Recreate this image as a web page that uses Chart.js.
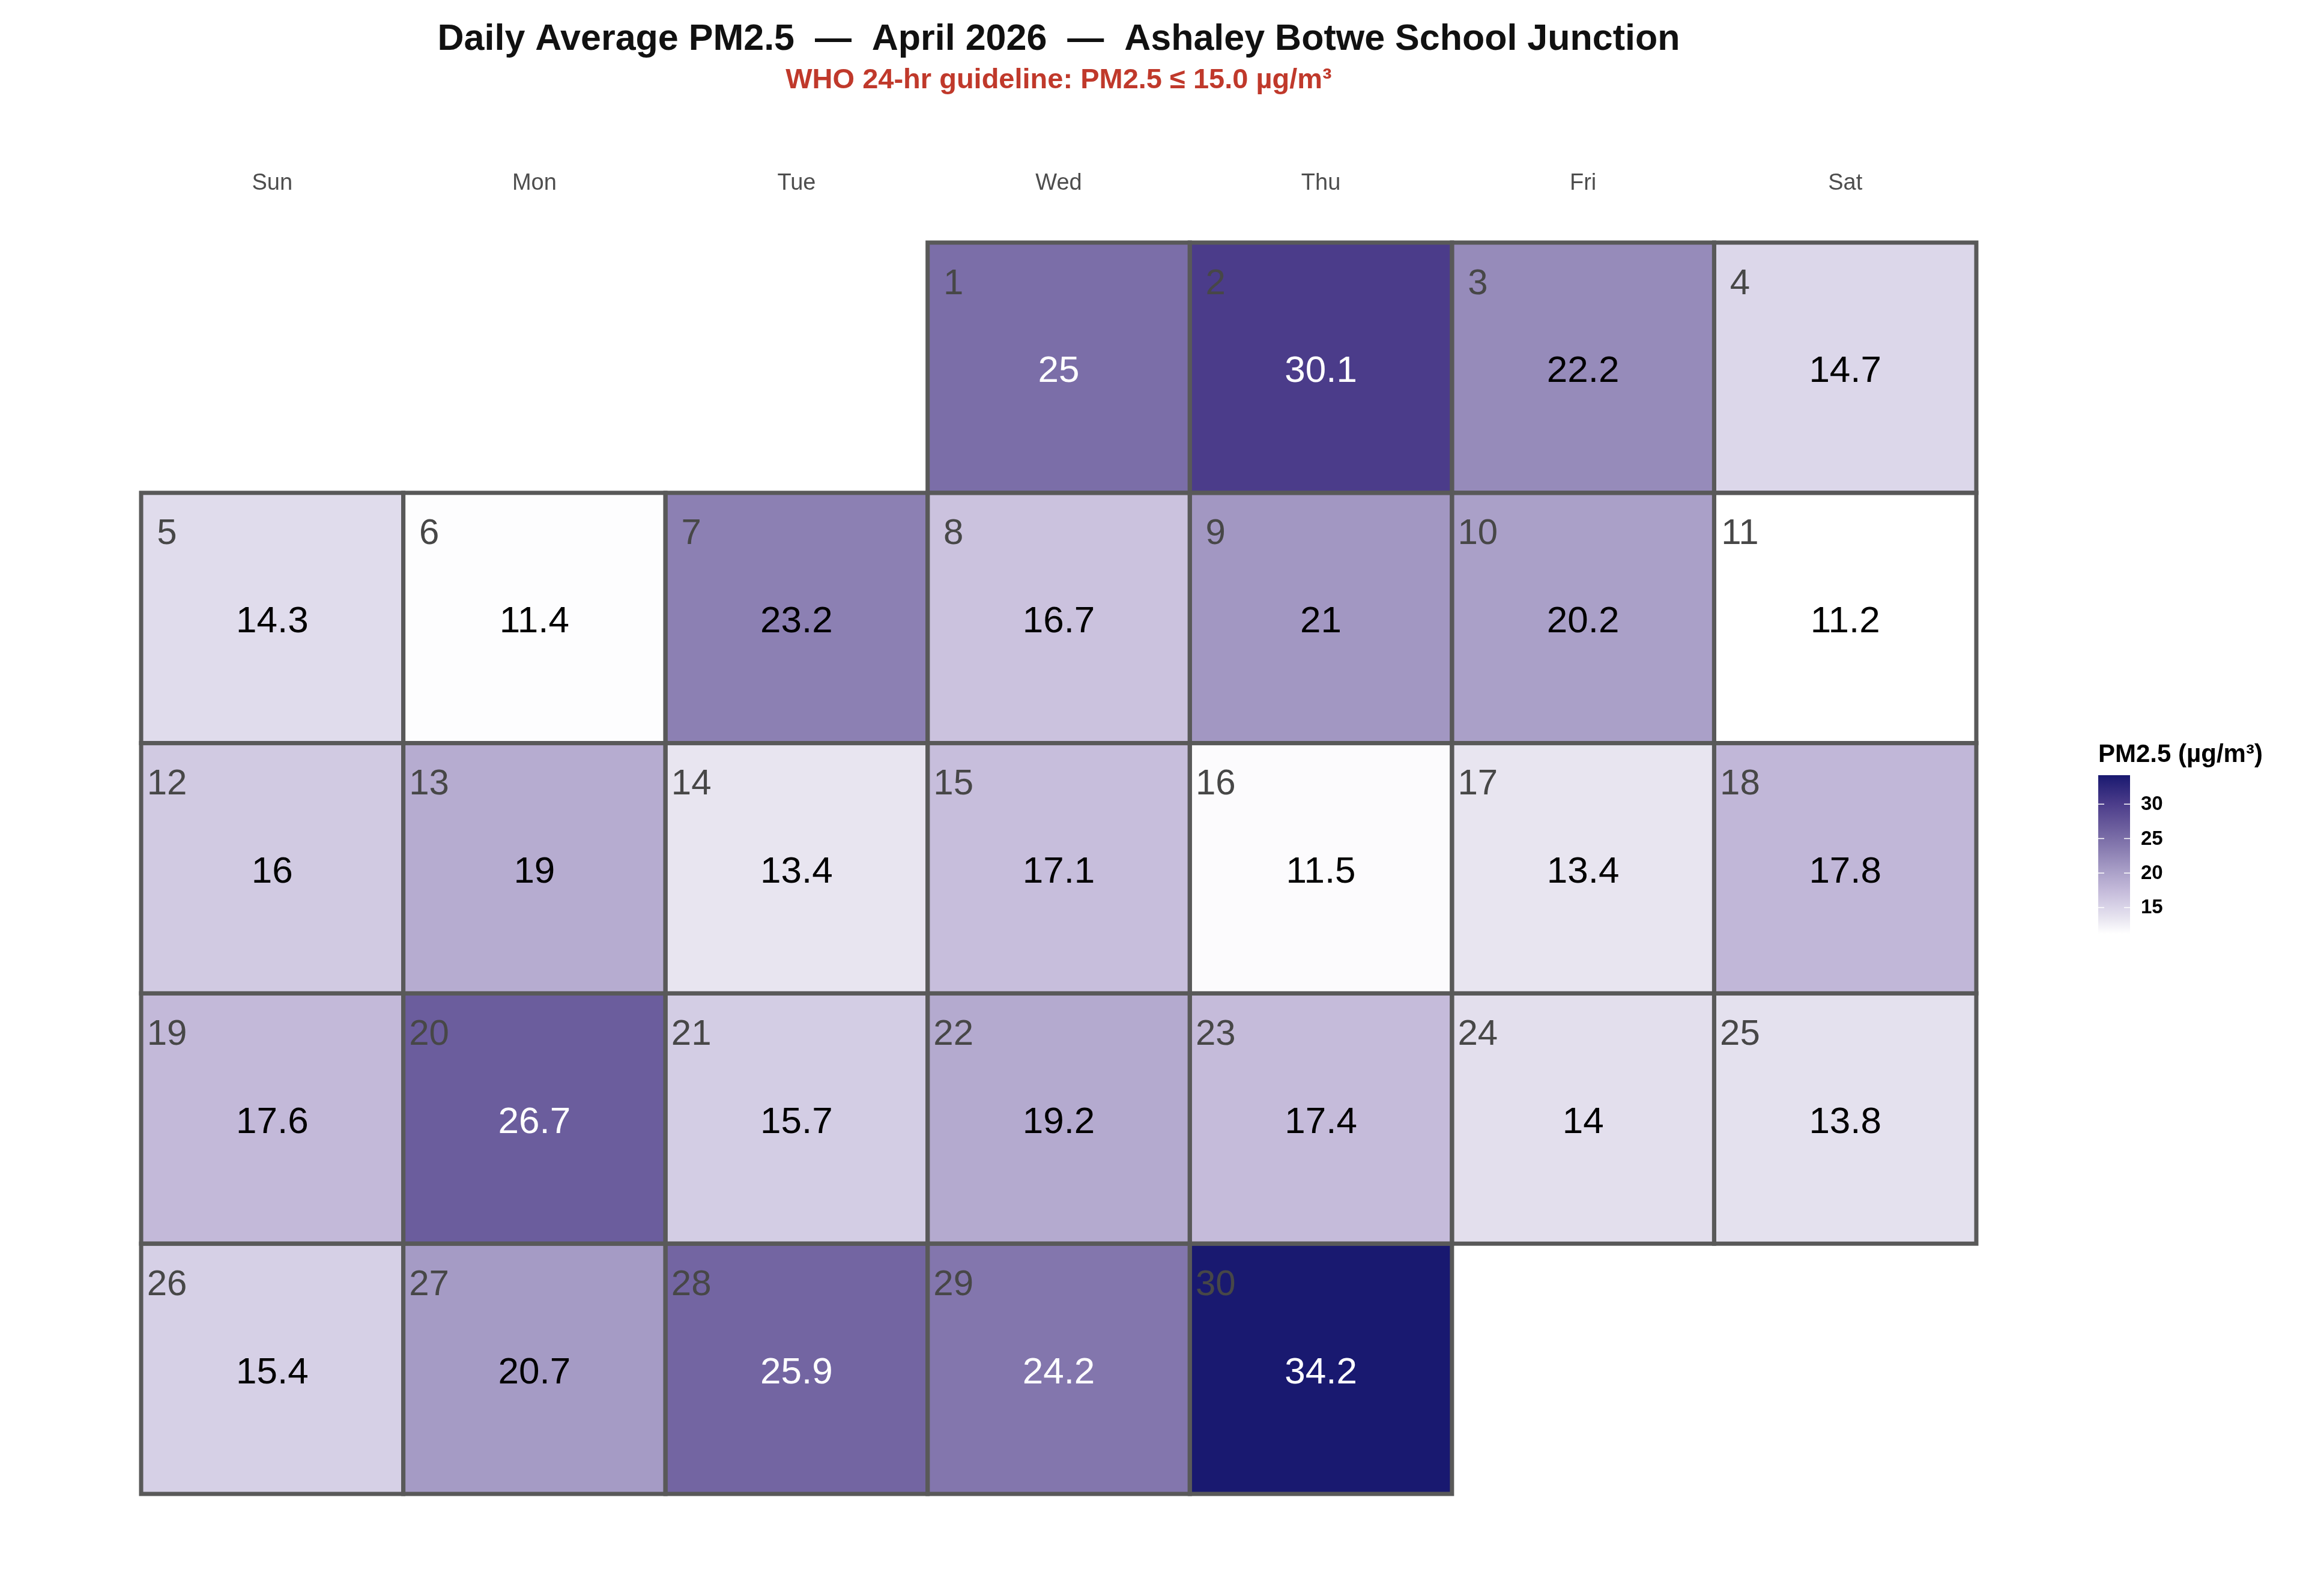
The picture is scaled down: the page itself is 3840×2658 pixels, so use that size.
<!DOCTYPE html>
<html>
<head>
<meta charset="utf-8">
<script src="https://cdn.jsdelivr.net/npm/chart.js@4.4.1/dist/chart.umd.min.js"></script>
<style>
  html, body { margin: 0; padding: 0; background: #fff; }
  #wrap { width: 3840px; height: 2658px; }
</style>
</head>
<body>
<div id="wrap"><canvas id="cal" width="3840" height="2658"></canvas></div>
<script>
const weekdays = ['Sun', 'Mon', 'Tue', 'Wed', 'Thu', 'Fri', 'Sat'];
const dayNumbers = [1, 2, 3, 4, 5, 6, 7, 8, 9, 10, 11, 12, 13, 14, 15,
  16, 17, 18, 19, 20, 21, 22, 23, 24, 25, 26, 27, 28, 29, 30];
const pm25 = [25, 30.1, 22.2, 14.7, 14.3, 11.4, 23.2, 16.7, 21, 20.2, 11.2, 16, 19, 13.4, 17.1,
  11.5, 13.4, 17.8, 17.6, 26.7, 15.7, 19.2, 17.4, 14, 13.8, 15.4, 20.7, 25.9, 24.2, 34.2];
const firstWeekday = 3; // 1 April 2026 falls on a Wednesday
const legendTicks = [15, 20, 25, 30];

const FONT = "'Liberation Sans', Arial, Helvetica, sans-serif";

// fill scale, white -> midnight blue
const colorStops = [
  [11.2, '#ffffff'], [13.4, '#e8e5f0'], [15.4, '#d6d0e6'], [17.6, '#c3b9d9'],
  [20.2, '#aaa0c8'], [23.2, '#8c80b3'], [26.7, '#6b5d9d'], [30.1, '#4b3c8a'], [34.2, '#191970']
];

function hexToRgb(h) {
  return [parseInt(h.slice(1, 3), 16), parseInt(h.slice(3, 5), 16), parseInt(h.slice(5, 7), 16)];
}

function fillFor(v) {
  if (v <= colorStops[0][0]) return colorStops[0][1];
  for (let i = 1; i < colorStops.length; i++) {
    if (v <= colorStops[i][0]) {
      const [v0, c0] = colorStops[i - 1];
      const [v1, c1] = colorStops[i];
      const t = (v - v0) / (v1 - v0);
      const a = hexToRgb(c0), b = hexToRgb(c1);
      const m = a.map((x, k) => Math.round(x + (b[k] - x) * t));
      return `rgb(${m[0]},${m[1]},${m[2]})`;
    }
  }
  return colorStops[colorStops.length - 1][1];
}

// one dataset per calendar week
const nWeeks = Math.ceil((firstWeekday + dayNumbers.length) / 7);
const cells = [];
for (let w = 0; w < nWeeks; w++) cells.push(weekdays.map(() => null));
dayNumbers.forEach((d, i) => {
  const slot = firstWeekday + d - 1;
  cells[Math.floor(slot / 7)][slot % 7] = { day: d, value: pm25[i] };
});

const datasets = cells.map((row, w) => ({
  label: 'Week ' + (w + 1),
  data: row.map(c => (c ? [w, w + 1] : null)),
  cells: row,
  backgroundColor: ctx => {
    const c = row[ctx.dataIndex];
    return c ? fillFor(c.value) : 'transparent';
  },
  borderWidth: 0,
  grouped: false,
  barPercentage: 1,
  categoryPercentage: 1,
}));

const vMin = Math.min(...pm25);
const vMax = Math.max(...pm25);

const tilePlugin = {
  id: 'tiles',
  afterDatasetsDraw(chart) {
    const ctx = chart.ctx;
    ctx.save();
    ctx.strokeStyle = '#595959';
    ctx.lineWidth = 7;
    chart.data.datasets.forEach((ds, di) => {
      chart.getDatasetMeta(di).data.forEach((el, i) => {
        const c = ds.cells[i];
        if (!c) return;
        const top = Math.min(el.y, el.base);
        const h = Math.abs(el.base - el.y);
        ctx.strokeRect(el.x - el.width / 2, top, el.width, h);
      });
    });
    chart.data.datasets.forEach((ds, di) => {
      chart.getDatasetMeta(di).data.forEach((el, i) => {
        const c = ds.cells[i];
        if (!c) return;
        const top = Math.min(el.y, el.base);
        const h = Math.abs(el.base - el.y);
        const left = el.x - el.width / 2;
        ctx.textAlign = 'center';
        ctx.textBaseline = 'middle';
        ctx.font = `60px ${FONT}`;
        ctx.fillStyle = '#474747';
        ctx.fillText(String(c.day), left + 43, top + 69);
        ctx.font = `62px ${FONT}`;
        ctx.fillStyle = c.value >= 24 ? '#ffffff' : '#000000';
        ctx.fillText(String(c.value), el.x, top + h / 2 + 7);
      });
    });
    ctx.restore();
  },
  afterDraw(chart) {
    // colour bar legend
    const ctx = chart.ctx;
    const x0 = 3494, w = 53, yTop = 1291, yBot = 1555;
    const yFor = v => yBot - (v - vMin) / (vMax - vMin) * (yBot - yTop);
    ctx.save();
    ctx.fillStyle = '#000';
    ctx.font = `bold 42px ${FONT}`;
    ctx.textAlign = 'left';
    ctx.textBaseline = 'middle';
    ctx.fillText('PM2.5 (µg/m³)', 3494, 1257);
    const g = ctx.createLinearGradient(0, yBot, 0, yTop);
    colorStops.forEach(([v, c]) => {
      g.addColorStop(Math.min(1, Math.max(0, (v - vMin) / (vMax - vMin))), c);
    });
    ctx.fillStyle = g;
    ctx.fillRect(x0, yTop, w, yBot - yTop);
    ctx.strokeStyle = '#ffffff';
    ctx.lineWidth = 1.5;
    ctx.fillStyle = '#000';
    ctx.font = `bold 33px ${FONT}`;
    legendTicks.forEach(t => {
      const y = yFor(t);
      ctx.beginPath();
      ctx.moveTo(x0, y); ctx.lineTo(x0 + 10, y);
      ctx.moveTo(x0 + w - 10, y); ctx.lineTo(x0 + w, y);
      ctx.stroke();
      ctx.fillText(String(t), 3565, y + 1);
    });
    ctx.restore();
  }
};

new Chart(document.getElementById('cal'), {
  type: 'bar',
  data: { labels: weekdays, datasets },
  options: {
    responsive: false,
    animation: false,
    devicePixelRatio: 1,
    layout: { padding: { left: 235, right: 549, top: 0, bottom: 170 } },
    plugins: {
      legend: { display: false },
      tooltip: { enabled: false },
      title: {
        display: true,
        text: 'Daily Average PM2.5  —  April 2026  —  Ashaley Botwe School Junction',
        color: '#111111',
        font: { family: FONT, size: 61, weight: 'bold' },
        padding: { top: 30, bottom: 0 },
      },
      subtitle: {
        display: true,
        text: 'WHO 24-hr guideline: PM2.5 ≤ 15.0 µg/m³',
        color: '#c0392b',
        font: { family: FONT, size: 47, weight: 'bold' },
        padding: { top: 3, bottom: 43.8 },
      },
    },
    scales: {
      x: {
        type: 'category',
        position: 'top',
        offset: true,
        grid: { display: false, drawTicks: false },
        border: { display: false },
        ticks: { color: '#4d4d4d', font: { family: FONT, size: 38 }, padding: 76 },
      },
      y: { type: 'linear', min: 0, max: nWeeks, reverse: true, display: false },
    },
  },
  plugins: [tilePlugin],
});
</script>
</body>
</html>
